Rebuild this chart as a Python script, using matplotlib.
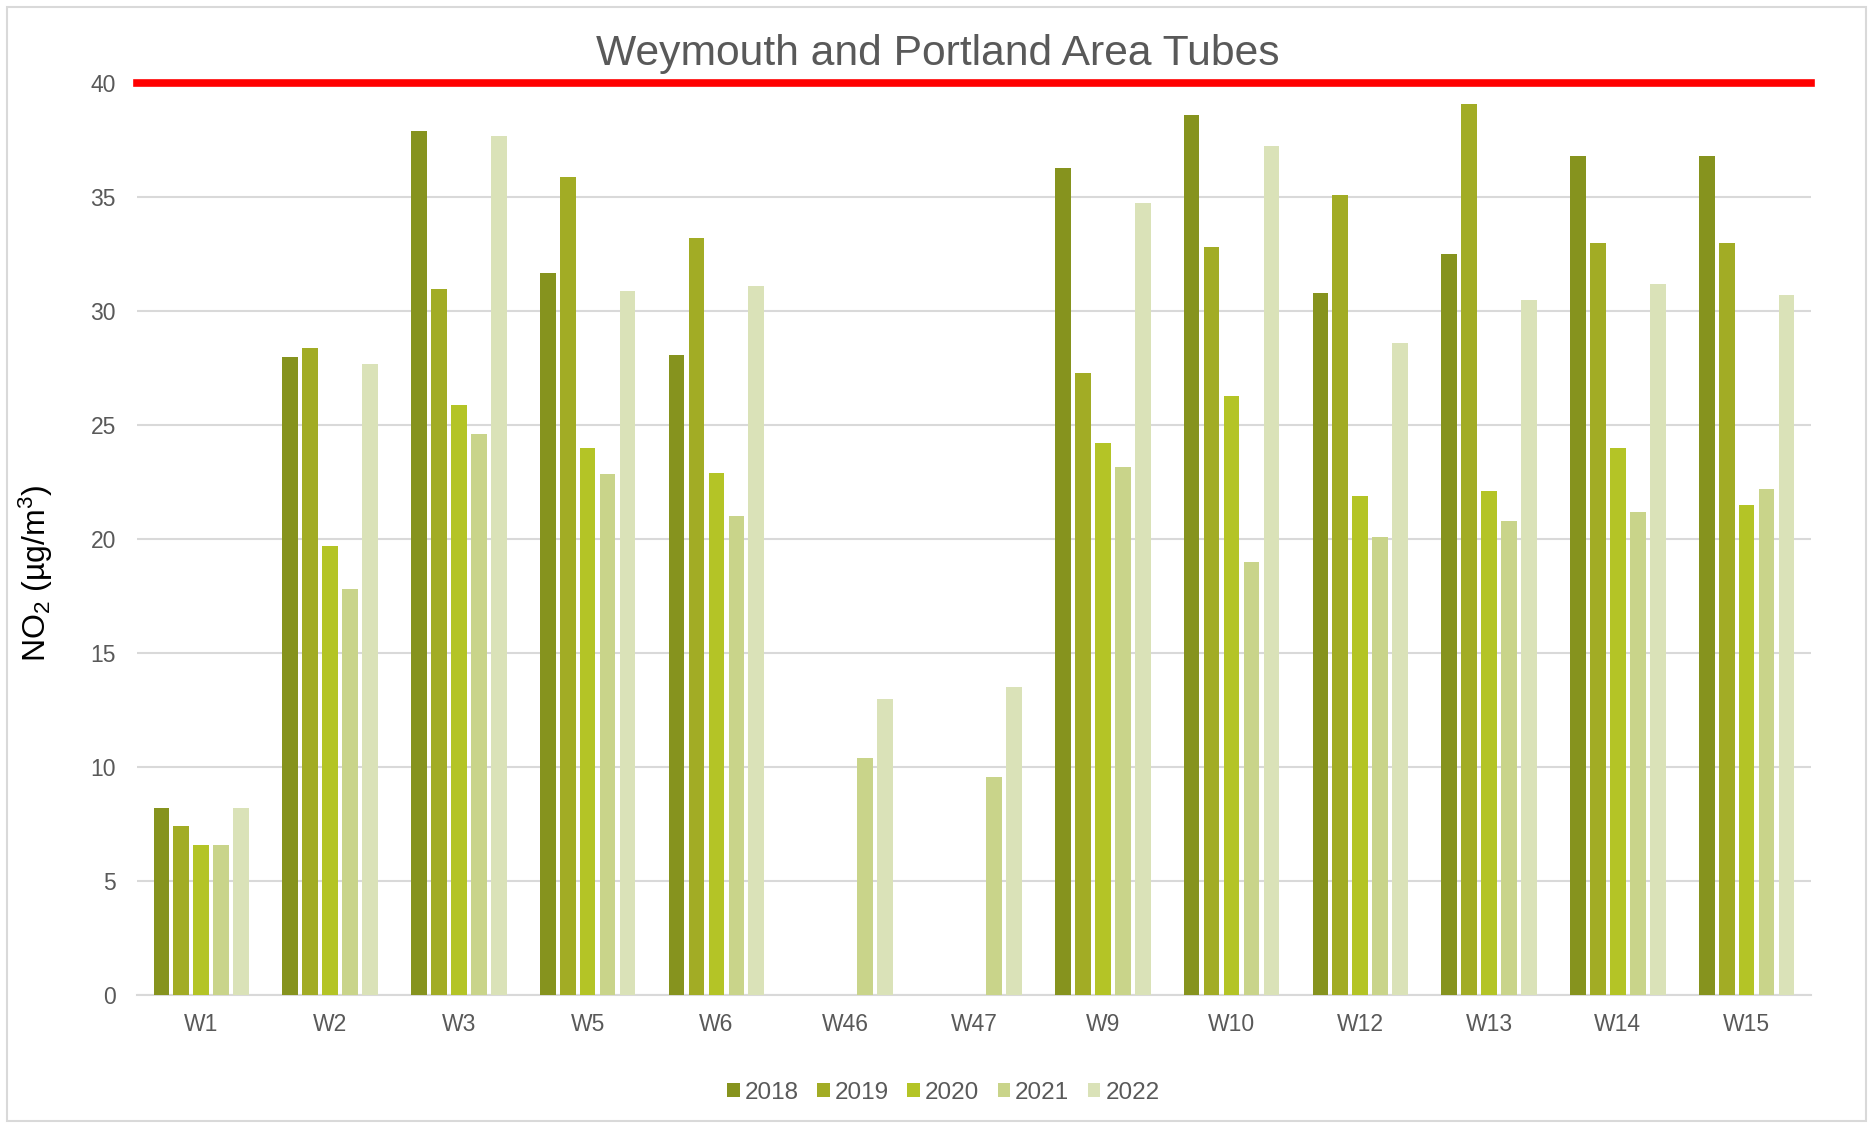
import numpy as np
import matplotlib
matplotlib.use("Agg")
import matplotlib.pyplot as plt
from matplotlib.patches import Rectangle

plt.rcParams['font.family'] = ['Liberation Sans', 'DejaVu Sans']

sites = ["W1", "W2", "W3", "W5", "W6", "W46", "W47", "W9", "W10", "W12", "W13", "W14", "W15"]
years = ["2018", "2019", "2020", "2021", "2022"]
nan = np.nan
no2_2018 = [8.2, 28.0, 37.9, 31.7, 28.1, nan, nan, 36.3, 38.6, 30.8, 32.5, 36.8, 36.8]
no2_2019 = [7.4, 28.4, 31.0, 35.9, 33.2, nan, nan, 27.3, 32.8, 35.1, 39.1, 33.0, 33.0]
no2_2020 = [6.6, 19.7, 25.9, 24.0, 22.9, nan, nan, 24.2, 26.3, 21.9, 22.1, 24.0, 21.5]
no2_2021 = [6.6, 17.8, 24.6, 22.85, 21.0, 10.4, 9.55, 23.15, 19.0, 20.1, 20.8, 21.2, 22.2]
no2_2022 = [8.2, 27.7, 37.7, 30.9, 31.1, 13.0, 13.5, 34.75, 37.25, 28.6, 30.5, 31.2, 30.7]
limit = 40

series = [no2_2018, no2_2019, no2_2020, no2_2021, no2_2022]
colors = ["#86931E", "#A2AC25", "#B4C426", "#C9D48A", "#DAE2B8"]

fig = plt.figure(figsize=(18.68, 11.24), dpi=100)
ax = fig.add_axes([0.0733, 0.1148, 0.8962, 0.8110])

x = np.arange(len(sites))
step = 0.155
width = 0.122
for i, (vals, yr, c) in enumerate(zip(series, years, colors)):
    ax.bar(x + (i - 2) * step, vals, width, color=c, label=yr, zorder=3)

# objective line
ax.axhline(limit, color="#FF0000", lw=5.5, zorder=4, clip_on=False)

ax.set_xlim(-0.5, len(sites) - 0.5)
ax.set_ylim(0, 40)
ax.set_yticks(np.arange(0, 41, 5))
ax.set_xticks(x)
ax.set_xticklabels(sites)
ax.tick_params(axis="both", length=0, labelsize=16.5, colors="#595959")
ax.tick_params(axis="x", pad=13)
ax.tick_params(axis="y", pad=15)
ax.yaxis.grid(True, color="#D9D9D9", lw=1.5)
ax.set_axisbelow(True)
for s in ["top", "right", "left"]:
    ax.spines[s].set_visible(False)
ax.spines["bottom"].set_color("#D9D9D9")
ax.spines["bottom"].set_linewidth(1.5)

ax.set_ylabel("NO$\\mathregular{_2}$ (µg/m$\\mathregular{^3}$)", fontsize=23, color="black")
ax.yaxis.set_label_coords(-0.049, 0.463)

fig.text(0.502, 0.952, "Weymouth and Portland Area Tubes", fontsize=30.7, color="#595959",
         ha="center", va="center")

fig.legend(loc="center", bbox_to_anchor=(0.505, 0.028), ncol=5, frameon=False,
           fontsize=17.5, labelcolor="#595959", handlelength=0.53, handleheight=0.53,
           handletextpad=0.2, columnspacing=0.75)

# outer chart border
fig.patches.append(Rectangle((0.004, 0.003), 0.995, 0.991, transform=fig.transFigure,
                             fill=False, edgecolor="#D9D9D9", lw=1.5))

fig.savefig("out.png", dpi=100)
